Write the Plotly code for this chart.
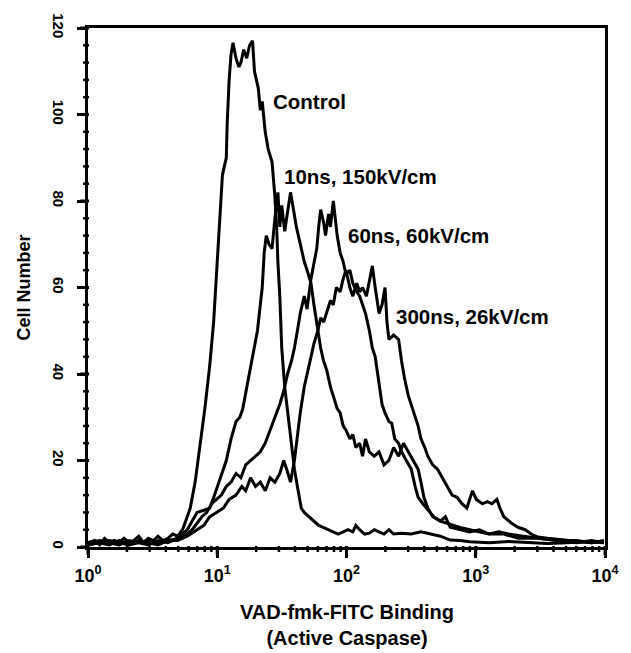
import numpy as np
import plotly.graph_objects as go

# log10 fluorescence (decades) and cell counts
control_log = [0.000,0.053,0.090,0.128,0.166,0.203,0.241,0.279,0.316,0.354,
    0.392,0.429,0.467,0.505,0.542,0.580,0.618,0.655,0.693,0.731,
    0.768,0.791,0.829,0.866,0.904,0.942,0.972,0.994,1.017,1.040,
    1.055,1.070,1.077,1.092,1.107,1.122,1.145,1.168,1.183,1.205,
    1.228,1.250,1.273,1.288,1.303,1.318,1.333,1.348,1.371,1.394,
    1.424,1.439,1.446,1.461,1.469,1.484,1.499,1.522,1.544,1.559,
    1.582,1.597,1.620,1.650,1.673,1.710,1.748,1.785,1.823,1.861,
    1.898,1.936,1.974,2.011,2.049,2.072,2.102,2.139,2.177,2.215,
    2.252,2.290,2.328,2.365,2.426,2.501,2.576,2.674,2.727,2.802,
    2.878,2.953,3.104,3.254,3.405,3.556,3.706,3.857,3.992]
control_cnt = [1,1.5,0.5,2,1,1.5,1,2,1,1.5,
    2.5,1,2,1.5,2.5,1.5,2,3,2.5,4,
    7,9,15,23,32,42,52,63,76,86,
    88,90,98,108,114,116.6,113,111,112,115,
    113,116,117,110,108,106,101,103,96,92,
    89,84,81,73,66,58,46,37,31,27,
    21,18,14,9,8,7,6,5,4.5,4,
    3.5,3,3.5,4,3.5,5,4,3,3.2,4,
    3.5,3,4,3,3.2,3,3.5,2.8,2.5,1.6,
    1.5,1.2,1,1.3,1,0.8,1,1.2,1]

ns10_log = [0,0.090,0.166,0.241,0.316,0.392,0.467,0.542,0.618,0.693,
    0.731,0.768,0.806,0.844,0.896,0.942,0.979,1.017,1.047,1.070,
    1.107,1.145,1.175,1.198,1.235,1.273,1.311,1.333,1.348,1.363,
    1.379,1.401,1.424,1.446,1.469,1.484,1.499,1.522,1.544,1.567,
    1.590,1.612,1.635,1.650,1.673,1.695,1.725,1.748,1.778,1.800,
    1.823,1.846,1.876,1.898,1.928,1.951,1.974,1.996,2.026,2.049,
    2.072,2.102,2.124,2.147,2.177,2.215,2.252,2.290,2.328,2.365,
    2.403,2.441,2.478,2.516,2.554,2.576,2.599,2.629,2.667,2.727,
    2.765,2.802,2.878,2.953,3.028,3.104,3.179,3.254,3.367,3.480,
    3.631,3.781,3.895,3.992]
ns10_cnt = [0.5,1,0.5,1.5,0.5,1,1.5,1,1.5,2,
    3,4,6,8,8.5,9,12,15.5,18,20,
    25,29,30,32,38,44,50,56,60,68,
    72,70,69,76,82,74,79,73,78,82,
    78,74,71,69,66,64,61,56,50,46,
    43,41,37,35,32,31,28,27,25,26,
    23,24,21,25,22,21,22,19,20,23,
    21,24,22,20,18,15,11.5,9,7,6,
    7,4.6,4,3.5,4,3,3.5,3,2.5,2,
    1.5,1.5,1,1.5]

ns60_log = [0,0.090,0.166,0.241,0.316,0.392,0.467,0.542,0.618,0.693,
    0.768,0.806,0.844,0.881,0.919,0.957,0.994,1.032,1.070,1.107,
    1.145,1.183,1.220,1.258,1.296,1.333,1.371,1.409,1.446,1.484,
    1.514,1.544,1.574,1.597,1.620,1.642,1.673,1.695,1.725,1.748,
    1.770,1.785,1.800,1.823,1.838,1.861,1.876,1.898,1.914,1.928,
    1.951,1.974,1.996,2.026,2.049,2.079,2.102,2.124,2.147,2.177,
    2.200,2.222,2.252,2.275,2.298,2.328,2.350,2.373,2.403,2.426,
    2.463,2.501,2.531,2.554,2.591,2.629,2.674,2.727,2.780,2.840,
    2.878,2.953,3.028,3.104,3.217,3.330,3.480,3.631,3.781,3.895,
    3.992]
ns60_cnt = [1,1.5,1,0.5,1.5,1,0.5,1.5,1,2,
    3,4,5.5,7,8,10,11,12,14,15,
    17,16,19,20,21,22,24,27,30,33,
    36,40,43,46,50,54,58,55,62,66,
    69,74,78,75,72,77,74,80,76,72,
    68,66,63,64,61,59,58,56,54,50,
    46,44,38,33,31,29,28.6,25,24,22,
    20,18,14,11.5,10,8.5,7,6,5.5,5,
    4.5,4,3.5,3,3,2,2,1.5,1,1.5,
    1]

ns300_log = [0,0.090,0.166,0.241,0.316,0.392,0.467,0.542,0.618,0.693,
    0.768,0.844,0.896,0.942,0.994,1.047,1.092,1.145,1.190,1.220,
    1.258,1.296,1.333,1.371,1.409,1.446,1.484,1.514,1.537,1.567,
    1.597,1.620,1.642,1.673,1.695,1.725,1.748,1.778,1.800,1.823,
    1.853,1.876,1.898,1.921,1.951,1.974,1.996,2.026,2.049,2.079,
    2.102,2.124,2.154,2.177,2.200,2.222,2.252,2.275,2.298,2.313,
    2.328,2.365,2.403,2.426,2.449,2.478,2.501,2.524,2.554,2.576,
    2.606,2.629,2.667,2.704,2.750,2.780,2.817,2.855,2.893,2.931,
    2.953,2.975,3.005,3.051,3.089,3.126,3.164,3.187,3.217,3.254,
    3.277,3.330,3.383,3.428,3.480,3.556,3.631,3.729,3.819,3.895,
    3.992]
ns300_cnt = [0.5,1,1.5,1,0.5,1.5,1,0.5,1.5,1.5,
    2.5,4,5,7,8,9,11,12,14,13,
    16,14,15,13,16,15,17,20,18,15,
    20,26,31,37,40,44,47,50,53,52,
    55,57,56,60,59,62,64,60,58,61,
    59,60,58,62,65,60,54,56,60,52,
    48,49,48,43,39,35,33,31,28,25,
    23,21,19,18,15.5,14,12,11.5,10,9,
    11,13,11,10,10.5,10,11,9,7,6,
    5.5,4.5,4,3,2.3,2,1.8,1.6,1.2,1,
    1.3]

series_labels = ["Control", "10ns, 150kV/cm", "60ns, 60kV/cm", "300ns, 26kV/cm"]
label_log_x = [1.416, 1.499, 1.996, 2.365]
label_y = [103.1, 85.7, 72.1, 53.4]

x_tickvals = [1, 10, 100, 1000, 10000]
x_ticktext = ["<b>10<sup>0</sup></b>", "<b>10<sup>1</sup></b>", "<b>10<sup>2</sup></b>",
              "<b>10<sup>3</sup></b>", "<b>10<sup>4</sup></b>"]
x_minor_vals = [m * 10 ** d for d in range(4) for m in range(2, 10)]
y_tickvals = [0, 20, 40, 60, 80, 100, 120]
y_ticktext = ["<b>0</b>", "<b>20</b>", "<b>40</b>", "<b>60</b>", "<b>80</b>", "<b>100</b>", "<b>120</b>"]
y_minor_vals = [v for v in range(0, 121, 4) if v % 20 != 0]

FONT = "Liberation Sans, Arial, sans-serif"
W, H = 631, 653
ML, MR, MT, MB = 88, 12, 28, 106
XR = (0, 4)      # log10 range of x axis
YR = (0, 120)
PW, PH = W - ML - MR, H - MT - MB

fig = go.Figure()
for lg, cnt in [(control_log, control_cnt), (ns10_log, ns10_cnt),
                (ns60_log, ns60_cnt), (ns300_log, ns300_cnt)]:
    fig.add_trace(go.Scatter(x=np.power(10.0, lg), y=cnt, mode="lines",
                             line=dict(color="black", width=3),
                             showlegend=False, hoverinfo="skip"))

for txt, lx, ly in zip(series_labels, label_log_x, label_y):
    fig.add_annotation(x=lx, y=ly, xref="x", yref="y", text=f"<b>{txt}</b>",
                       showarrow=False, xanchor="left", yanchor="middle",
                       font=dict(family=FONT, size=20.5, color="black"))

fig.add_annotation(x=0.5, y=0, xref="paper", yref="paper",
                   text="<b>VAD-fmk-FITC Binding</b><br><b>(Active Caspase)</b>",
                   showarrow=False, xanchor="center", yanchor="top", yshift=-52,
                   font=dict(family=FONT, size=20, color="black"))
fig.add_annotation(x=0, y=0.5, xref="paper", yref="paper",
                   text="<b>Cell Number</b>", textangle=-90,
                   showarrow=False, xanchor="center", yanchor="middle", xshift=-65,
                   font=dict(family=FONT, size=18, color="black"))

# outward tick marks drawn as paper-referenced shapes (not clipped to the plot area)
def xtick(v, length, width):
    px = (np.log10(v) - XR[0]) / (XR[1] - XR[0])
    fig.add_shape(type="line", xref="paper", yref="paper", x0=px, x1=px,
                  y0=0.002, y1=-length / PH, line=dict(color="black", width=width),
                  layer="above")

def ytick(v, length, width):
    py = (v - YR[0]) / (YR[1] - YR[0])
    fig.add_shape(type="line", xref="paper", yref="paper", y0=py, y1=py,
                  x0=0.002, x1=-length / PW, line=dict(color="black", width=width),
                  layer="above")

for v in x_tickvals:
    xtick(v, 8, 3)
for v in x_minor_vals:
    xtick(v, 5, 2.5)
for v in y_tickvals:
    ytick(v, 8, 3)
for v in y_minor_vals:
    ytick(v, 5, 2.5)

fig.update_layout(
    width=W, height=H, margin=dict(l=ML, r=MR, t=MT, b=MB),
    plot_bgcolor="white", paper_bgcolor="white",
    font=dict(family=FONT, color="black"),
    xaxis=dict(type="log", range=list(XR), tickmode="array", tickvals=x_tickvals, ticktext=x_ticktext,
               showline=True, linecolor="black", linewidth=3, mirror=True,
               ticks="outside", ticklen=8, tickwidth=3, tickcolor="black",
               showgrid=False, zeroline=False, ticklabelstandoff=2,
               tickfont=dict(family=FONT, size=18, color="black")),
    yaxis=dict(range=list(YR), tickmode="array", tickvals=y_tickvals, ticktext=y_ticktext, tickangle=90,
               showline=True, linecolor="black", linewidth=3, mirror=True,
               ticks="outside", ticklen=8, tickwidth=3, tickcolor="black",
               showgrid=False, zeroline=False, ticklabelstandoff=6,
               tickfont=dict(family=FONT, size=15, color="black")),
)
fig.write_html("out.html")
